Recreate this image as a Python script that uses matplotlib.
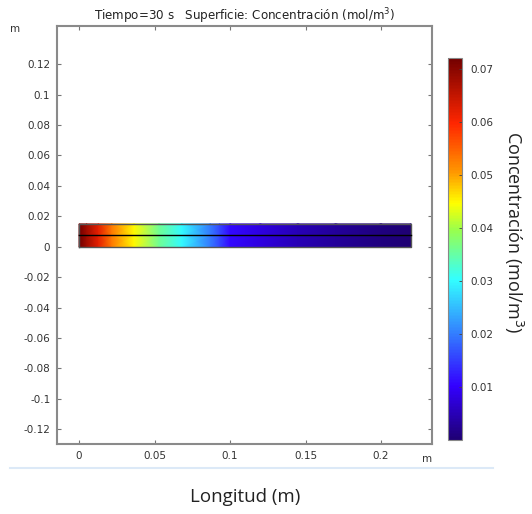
import numpy as np
import matplotlib
matplotlib.use("Agg")
import matplotlib.pyplot as plt
from matplotlib.colors import LinearSegmentedColormap, Normalize
from matplotlib.lines import Line2D

# concentration profile along the length
pos_x = [0.0, 0.005, 0.0128, 0.0216, 0.0365, 0.053, 0.068, 0.087, 0.093, 0.1,
         0.12, 0.145, 0.17, 0.2, 0.22]
conc = [0.0721, 0.068, 0.062, 0.053, 0.045, 0.036, 0.030, 0.020, 0.016, 0.011,
        0.008, 0.005, 0.003, 0.0012, 0.0002]
layers_y = [0.0, 0.0075, 0.015]

x_ticks = [0, 0.05, 0.1, 0.15, 0.2]
x_labels = ["0", "0.05", "0.1", "0.15", "0.2"]
y_ticks = [0.12, 0.1, 0.08, 0.06, 0.04, 0.02, 0, -0.02, -0.04, -0.06, -0.08, -0.1, -0.12]
y_labels = ["0.12", "0.1", "0.08", "0.06", "0.04", "0.02", "0", "-0.02", "-0.04",
            "-0.06", "-0.08", "-0.1", "-0.12"]
cb_ticks = [0.01, 0.02, 0.03, 0.04, 0.05, 0.06, 0.07]
vmin, vmax = 0.0001, 0.0721

rainbow = LinearSegmentedColormap.from_list("comsol_rainbow", [
    (0.0, (0.12, 0.0, 0.45)),
    (0.14, (0.2, 0.0, 1.0)),
    (0.28, (0.2, 0.5, 1.0)),
    (0.42, (0.2, 1.0, 1.0)),
    (0.55, (0.6, 1.0, 0.3)),
    (0.62, (1.0, 1.0, 0.0)),
    (0.70, (1.0, 0.6, 0.0)),
    (0.83, (1.0, 0.15, 0.0)),
    (1.0, (0.45, 0.0, 0.0)),
])
norm = Normalize(vmin=vmin, vmax=vmax)

fig = plt.figure(figsize=(5.32, 5.14), dpi=100)
ax = fig.add_axes([0.1077, 0.1362, 0.7038, 0.8132])

X, Y = np.meshgrid(pos_x, layers_y)
C = np.tile(conc, (len(layers_y), 1))
mesh = ax.pcolormesh(X, Y, C, cmap=rainbow, norm=norm, shading="gouraud")

# outline and layer boundary
ax.plot([pos_x[0], pos_x[-1], pos_x[-1], pos_x[0], pos_x[0]],
        [layers_y[0], layers_y[0], layers_y[-1], layers_y[-1], layers_y[0]],
        color="#555555", lw=1.0)
ax.plot([pos_x[0], pos_x[-1]], [layers_y[1], layers_y[1]], color="black", lw=1.0)

ax.set_xlim(-0.0144, 0.2336)
ax.set_ylim(-0.1296, 0.145)
ax.set_xticks(x_ticks)
ax.set_xticklabels(x_labels)
ax.set_yticks(y_ticks)
ax.set_yticklabels(y_labels)
ax.tick_params(direction="in", length=3, width=0.8, color="#777777",
               labelsize=7.5, labelcolor="#333333", pad=5,
               top=True, right=True)
for s in ax.spines.values():
    s.set_color("#8a8a8a")
    s.set_linewidth(1.5)

ax.set_title("Tiempo=30 s   Superficie: Concentración (mol/m$^3$)",
             fontsize=8.6, color="#222222", pad=4)

# unit labels
fig.text(15 / 532, 1 - 29 / 514, "m", fontsize=7.5, color="#333333", ha="center", va="center")
fig.text(427 / 532, 1 - 459 / 514, "m", fontsize=7.5, color="#333333", ha="center", va="center")

# colorbar
cax = fig.add_axes([448 / 532, 1 - 440 / 514, 14 / 532, 382 / 514])
cb = fig.colorbar(mesh, cax=cax, ticks=cb_ticks)
cb.ax.tick_params(direction="in", length=2, width=0.6, color="#444444",
                  labelsize=7.5, labelcolor="#333333", pad=6)
cb.outline.set_edgecolor("#888888")
cb.outline.set_linewidth(0.8)
fig.text(514 / 532, 1 - 232 / 514, "Concentración (mol/m$^3$)", rotation=270,
         fontsize=13, family="Open Sans", color="#222222", ha="center", va="center")

# separator line and x label
fig.add_artist(Line2D([10 / 532, 493 / 532], [1 - 468 / 514, 1 - 468 / 514],
                      color="#dce9f7", lw=1.5))
fig.text(245 / 532, 1 - 497 / 514, "Longitud (m)", fontsize=13.5,
         family="Open Sans", color="#222222", ha="center", va="center")

fig.savefig("out.png", dpi=100)
